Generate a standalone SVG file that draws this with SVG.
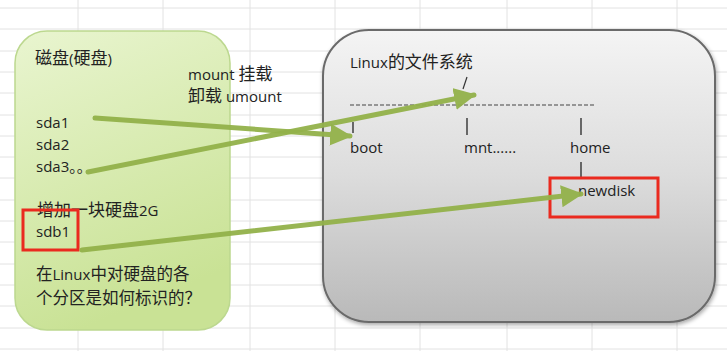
<svg xmlns="http://www.w3.org/2000/svg" width="727" height="351" viewBox="0 0 727 351">
<defs>
<linearGradient id="gGreen" x1="0" y1="0" x2="0.3" y2="1">
<stop offset="0" stop-color="#e9f5d0"/>
<stop offset="1" stop-color="#c9e295"/>
</linearGradient>
<linearGradient id="gGray" x1="0" y1="0" x2="0" y2="1">
<stop offset="0" stop-color="#f4f4f4"/>
<stop offset="0.5" stop-color="#dcdcdc"/>
<stop offset="1" stop-color="#b9b9b9"/>
</linearGradient>
<filter id="shadow" x="-10%" y="-10%" width="120%" height="120%">
<feGaussianBlur in="SourceAlpha" stdDeviation="2"/>
<feOffset dx="1" dy="2"/>
<feComponentTransfer><feFuncA type="linear" slope="0.35"/></feComponentTransfer>
<feMerge><feMergeNode/><feMergeNode in="SourceGraphic"/></feMerge>
</filter>
<marker id="ah" viewBox="0 0 10 10" refX="9" refY="5" markerWidth="4.4" markerHeight="4.6" orient="auto" markerUnits="strokeWidth">
<path d="M0,0 L10,5 L0,10 Z" fill="#93b24a"/>
</marker>
</defs>
<style>
.grid line{stroke:#e2e2e2;stroke-width:1}
.t{font-family:"Open Sans","Liberation Sans","Noto Sans CJK SC",sans-serif;font-size:15px;fill:#222}
.c{font-family:"Noto Sans CJK SC",sans-serif;font-size:17px}
.c3{font-family:"Noto Sans CJK SC",sans-serif;font-size:16.5px}
.red{fill:none;stroke:#ea2a1f;stroke-width:3}
.tick{stroke:#333;stroke-width:1.4}
.conn{stroke:#93b24a;stroke-width:5;fill:none;stroke-linecap:round;opacity:0.95}
</style>
<rect width="727" height="351" fill="#ffffff"/>
<g class="grid">
<line x1="0" y1="8" x2="727" y2="8"/><line x1="0" y1="29" x2="727" y2="29"/><line x1="0" y1="51" x2="727" y2="51"/><line x1="0" y1="72" x2="727" y2="72"/><line x1="0" y1="93" x2="727" y2="93"/><line x1="0" y1="115" x2="727" y2="115"/><line x1="0" y1="136" x2="727" y2="136"/><line x1="0" y1="157" x2="727" y2="157"/><line x1="0" y1="178" x2="727" y2="178"/><line x1="0" y1="200" x2="727" y2="200"/><line x1="0" y1="221" x2="727" y2="221"/><line x1="0" y1="242" x2="727" y2="242"/><line x1="0" y1="264" x2="727" y2="264"/><line x1="0" y1="285" x2="727" y2="285"/><line x1="0" y1="306" x2="727" y2="306"/><line x1="0" y1="328" x2="727" y2="328"/><line x1="0" y1="349" x2="727" y2="349"/>
<line x1="78" y1="0" x2="78" y2="351"/><line x1="163" y1="0" x2="163" y2="351"/><line x1="250" y1="0" x2="250" y2="351"/><line x1="335" y1="0" x2="335" y2="351"/><line x1="420" y1="0" x2="420" y2="351"/><line x1="507" y1="0" x2="507" y2="351"/><line x1="592" y1="0" x2="592" y2="351"/><line x1="677" y1="0" x2="677" y2="351"/>
</g>
<g id="disk">
<rect x="15" y="31" width="215" height="299" rx="32" ry="32" fill="url(#gGreen)" stroke="#bcd88f" stroke-width="1.5"/>
<text class="t" x="35" y="64"><tspan class="c">磁盘</tspan>(<tspan class="c">硬盘</tspan>)</text>
<text class="t" x="36" y="128">sda1</text>
<text class="t" x="36" y="150">sda2</text>
<text class="t" x="36" y="172">sda3。。</text>
<text class="t" x="37" y="216"><tspan class="c">增加一块硬盘</tspan>2G</text>
<text class="t" x="36" y="237">sdb1</text>
<rect class="red" x="23" y="210" width="55" height="40"/>
<text class="t" x="36" y="280"><tspan class="c3">在</tspan>Linux<tspan class="c3">中对硬盘的各</tspan></text>
<text class="t" x="36" y="304"><tspan class="c3">个分区是如何标识的？</tspan></text>
</g>
<g id="mount-label">
<text class="t" x="188" y="80">mount <tspan class="c">挂载</tspan></text>
<text class="t" x="188" y="102"><tspan class="c">卸载</tspan> umount</text>
</g>
<g id="linuxfs">
<rect x="323" y="30" width="392" height="292" rx="46" ry="46" fill="url(#gGray)" stroke="#6a6a6a" stroke-width="2" filter="url(#shadow)"/>
<text class="t" x="350" y="68">Linux<tspan class="c">的文件系统</tspan></text>
<line class="tick" x1="467" y1="77" x2="463" y2="89" style="stroke-width:1.2"/>
<line x1="350" y1="105" x2="594" y2="105" stroke="#444" stroke-width="1.2" stroke-dasharray="4,2"/>
<line class="tick" x1="353" y1="122" x2="353" y2="133"/>
<line class="tick" x1="467" y1="118" x2="467" y2="135"/>
<line class="tick" x1="581" y1="118" x2="581" y2="135"/>
<text class="t" x="350" y="153">boot</text>
<text class="t" x="464" y="153">mnt......</text>
<text class="t" x="570" y="153">home</text>
<line class="tick" x1="581" y1="162" x2="581" y2="178"/>
<text class="t" x="578" y="196">newdisk</text>
<rect class="red" x="550" y="178" width="108" height="39"/>
</g>
<g id="connectors">
<line class="conn" x1="95" y1="118" x2="350" y2="136" marker-end="url(#ah)"/>
<line class="conn" x1="88" y1="172" x2="474" y2="95" marker-end="url(#ah)"/>
<line class="conn" x1="82" y1="250" x2="581" y2="194" marker-end="url(#ah)"/>
</g>
</svg>
